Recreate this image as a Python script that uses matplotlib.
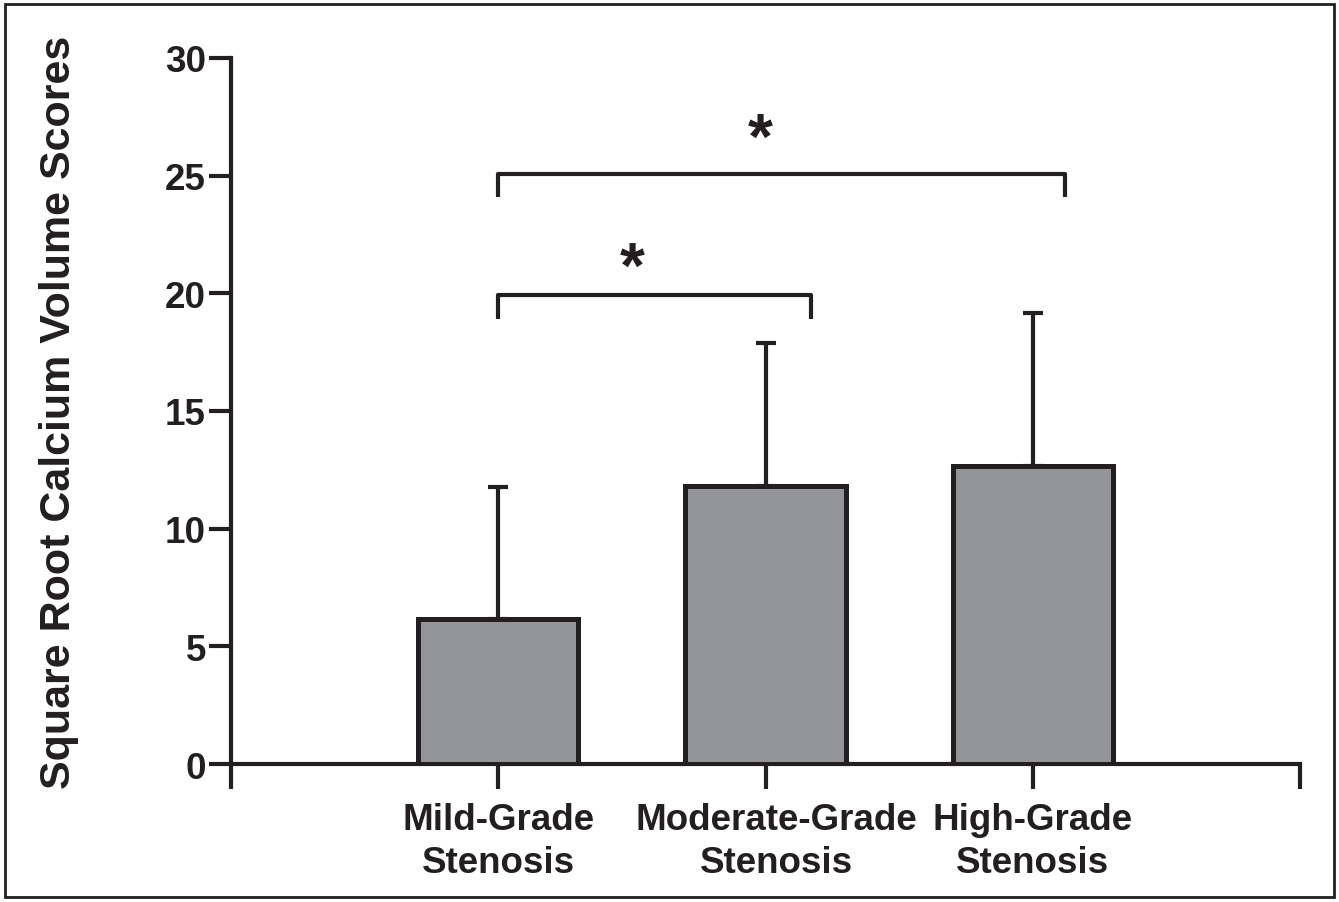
import matplotlib.pyplot as plt
from matplotlib.patches import Rectangle
from matplotlib.transforms import ScaledTranslation

plt.rcParams['font.family'] = ['Liberation Sans', 'DejaVu Sans']
plt.rcParams['font.weight'] = 'bold'

categories = ['Mild-Grade\nStenosis', 'Moderate-Grade\nStenosis', 'High-Grade\nStenosis']
means = [6.15, 11.8, 12.65]
sd_upper = [5.6, 6.1, 6.5]

# significance brackets: (x start, x end, bar height, leg bottom, star x, star y)
brackets = [
    (1.0, 2.17, 19.93, 18.9, 1.5, 21.0),
    (1.0, 3.12, 25.07, 24.1, 1.98, 26.5),
]

ink = '#231f20'
fill = '#939598'

fig = plt.figure(figsize=(13.39, 9.03), dpi=100)
ax = fig.add_axes([0.1725, 0.1528, 0.7984, 0.7819])

pos = [1, 2, 3]
ax.bar(pos, means, width=0.6, color=fill, edgecolor=ink, linewidth=3.6, zorder=3)
ax.errorbar(pos, means, yerr=[[0, 0, 0], sd_upper], fmt='none', ecolor=ink,
            elinewidth=3, capsize=7.5, capthick=3, zorder=2)

for x0, x1, yb, yl, sx, sy in brackets:
    ax.plot([x0, x0, x1, x1], [yl, yb, yb, yl], color=ink, lw=3, solid_capstyle='butt')
    ax.text(sx, sy, '*', ha='center', va='center', fontsize=46, fontweight='bold', color=ink)

ax.set_xlim(0, 4)
ax.set_ylim(0, 30)
ax.set_yticks([0, 5, 10, 15, 20, 25, 30])
ax.set_xticks([0, 1, 2, 3, 4])
ax.set_xticklabels([''] + categories + [''], linespacing=1.32)
ax.spines['top'].set_visible(False)
ax.spines['right'].set_visible(False)
for s in ['left', 'bottom']:
    ax.spines[s].set_linewidth(3)
    ax.spines[s].set_color(ink)
ax.tick_params(axis='y', length=16, width=3, color=ink, labelsize=26.5, labelcolor=ink, pad=2)
ax.tick_params(axis='x', length=18, width=3, color=ink, labelsize=26.5, labelcolor=ink, pad=9)
for lab in ax.get_xticklabels() + ax.get_yticklabels():
    lab.set_fontweight('bold')
# the middle label sits a little right of its tick in the original
mid = ax.get_xticklabels()[2]
mid.set_transform(mid.get_transform() + ScaledTranslation(11 / 100, 0, fig.dpi_scale_trans))
ax.set_ylabel('Square Root Calcium Volume Scores', fontsize=31, fontweight='bold', color=ink, labelpad=62)

fig.patches.append(Rectangle((0.004, 0.005), 0.992, 0.99, transform=fig.transFigure,
                             fill=False, edgecolor=ink, linewidth=2))

fig.savefig('out.png', dpi=100)
